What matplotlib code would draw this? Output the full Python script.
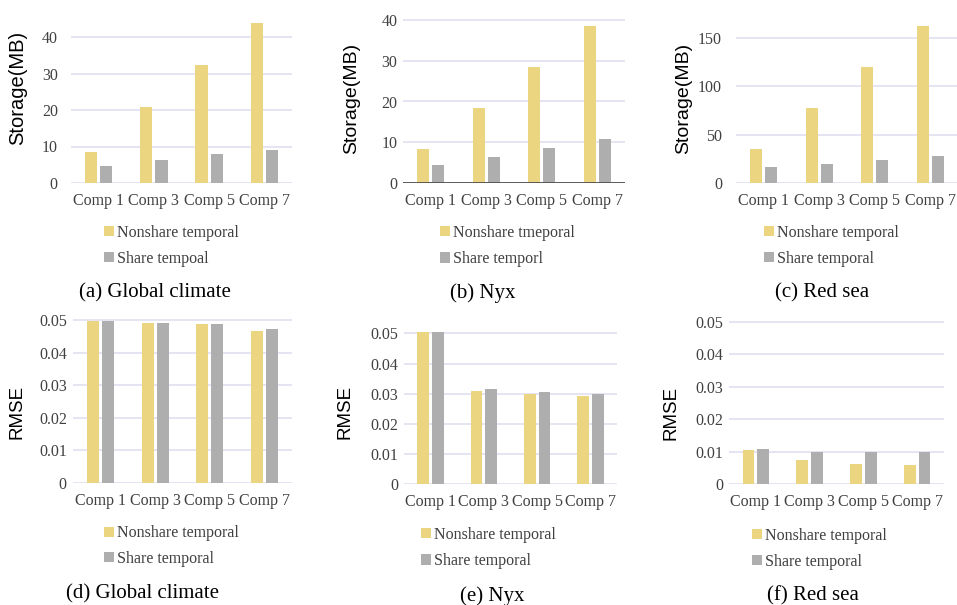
import numpy as np
import matplotlib
matplotlib.use("Agg")
import matplotlib.pyplot as plt
from matplotlib.patches import Patch

W, H = 957, 605

comps = ["Comp 1", "Comp 3", "Comp 5", "Comp 7"]

# storage (MB)
climate_nonshare = [8.6, 20.9, 32.2, 43.9]
climate_share = [4.6, 6.2, 7.9, 9.1]
nyx_nonshare = [8.4, 18.3, 28.4, 38.5]
nyx_share = [4.4, 6.5, 8.7, 10.7]
redsea_nonshare = [35.4, 77.1, 119.5, 162.2]
redsea_share = [16.5, 19.8, 24.0, 28.4]

# RMSE
climate_rmse_nonshare = [0.0496, 0.0491, 0.0487, 0.0466]
climate_rmse_share = [0.0496, 0.0492, 0.0488, 0.0472]
nyx_rmse_nonshare = [0.0505, 0.0309, 0.0299, 0.0291]
nyx_rmse_share = [0.0505, 0.0316, 0.0305, 0.0299]
redsea_rmse_nonshare = [0.0106, 0.0076, 0.0063, 0.0058]
redsea_rmse_share = [0.0110, 0.0100, 0.0100, 0.0098]

storage_ticks = {"a": [0, 10, 20, 30, 40], "b": [0, 10, 20, 30, 40],
                 "c": [0, 50, 100, 150]}
rmse_ticks = [0, 0.01, 0.02, 0.03, 0.04, 0.05]
rmse_ticklabels = ["0", "0.01", "0.02", "0.03", "0.04", "0.05"]

YELLOW = "#ECD580"
GRAY = "#AEAEAE"
GRID = "#DCDCEF"
TXT = "#404040"

serif = ["Liberation Serif", "DejaVu Serif"]
sans = ["Liberation Sans", "DejaVu Sans"]

fig = plt.figure(figsize=(W / 100, H / 100), dpi=100)


def make_axes(x0, x1, yzero, ppu, ymax):
    # pixel box -> figure fraction
    top = yzero - ymax * ppu
    return fig.add_axes([x0 / W, 1 - yzero / H, (x1 - x0) / W, (yzero - top) / H])


# panel layout: x0, x1, zero-line y, px per unit, ymax, ytick pad, ylabel centre
panels = [
    dict(x0=71, x1=292, yz=183, ppu=3.65, ymax=46, pad=9.5, lx=18, ly=88,
         a=climate_nonshare, b=climate_share, ticks=storage_ticks["a"], labels=None,
         ylab="Storage(MB)", ylsize=14.5, leg=("Nonshare temporal", "Share tempoal"),
         legxy=(104, 246), legsp=0.62, cap="(a) Global climate", capxy=(155, 293)),
    dict(x0=403, x1=625, yz=183, ppu=4.075, ymax=40.6, pad=4, lx=352, ly=98,
         a=nyx_nonshare, b=nyx_share, ticks=storage_ticks["b"], labels=None,
         ylab="Storage(MB)", ylsize=14, leg=("Nonshare tmeporal", "Share temporl"),
         legxy=(440, 246), legsp=0.65, cap="(b) Nyx", capxy=(483, 293)),
    dict(x0=736, x1=958, yz=183, ppu=0.968, ymax=165, pad=10, lx=684, ly=98,
         a=redsea_nonshare, b=redsea_share, ticks=storage_ticks["c"], labels=None,
         ylab="Storage(MB)", ylsize=14, leg=("Nonshare temporal", "Share temporal"),
         legxy=(764, 246), legsp=0.62, cap="(c) Red sea", capxy=(822, 293)),
    dict(x0=73, x1=292, yz=483, ppu=3260, ymax=0.0505, pad=4.5, lx=17, ly=412,
         a=climate_rmse_nonshare, b=climate_rmse_share, ticks=rmse_ticks,
         labels=rmse_ticklabels, ylab="RMSE", ylsize=13.5,
         leg=("Nonshare temporal", "Share temporal"),
         legxy=(104, 546), legsp=0.6, cap="(d) Global climate", capxy=(142, 594)),
    dict(x0=404, x1=617, yz=484.3, ppu=3020, ymax=0.052, pad=4, lx=345, ly=412,
         a=nyx_rmse_nonshare, b=nyx_rmse_share, ticks=rmse_ticks,
         labels=rmse_ticklabels, ylab="RMSE", ylsize=13.5,
         leg=("Nonshare temporal", "Share temporal"),
         legxy=(421, 548), legsp=0.65, cap="(e) Nyx", capxy=(492, 596)),
    dict(x0=729, x1=944, yz=484.3, ppu=3250, ymax=0.0505, pad=4, lx=671, ly=413,
         a=redsea_rmse_nonshare, b=redsea_rmse_share, ticks=rmse_ticks,
         labels=rmse_ticklabels, ylab="RMSE", ylsize=13.5,
         leg=("Nonshare temporal", "Share temporal"),
         legxy=(752, 549), legsp=0.62, cap="(f) Red sea", capxy=(813, 596)),
]

x = np.arange(len(comps))
bw = 0.22
off = 0.137

for i, p in enumerate(panels):
    ax = make_axes(p["x0"], p["x1"], p["yz"], p["ppu"], p["ymax"])
    ax.bar(x - off, p["a"], bw, color=YELLOW, zorder=3)
    ax.bar(x + off, p["b"], bw, color=GRAY, zorder=3)
    ax.set_xlim(-0.5, 3.5)
    ax.set_ylim(0, p["ymax"])
    ax.set_yticks(p["ticks"])
    if p["labels"] is not None:
        ax.set_yticklabels(p["labels"])
    ax.set_xticks(x)
    ax.set_xticklabels(comps)
    for s in ax.spines.values():
        s.set_visible(False)
    ax.grid(axis="y", color=GRID, linewidth=1.1, zorder=0)
    if i == 1:
        ax.axhline(0, color="#505050", linewidth=1.3, zorder=4)
    ax.tick_params(axis="both", length=0, colors=TXT, labelsize=11.5)
    ax.tick_params(axis="y", pad=p["pad"])
    ax.tick_params(axis="x", pad=7)
    for t in ax.get_xticklabels() + ax.get_yticklabels():
        t.set_family(serif)
    ax.set_ylabel(p["ylab"], fontsize=p["ylsize"], family=sans, color="#000000",
                  va="center")
    top = p["yz"] - p["ymax"] * p["ppu"]
    ax.yaxis.set_label_coords((p["lx"] - p["x0"]) / (p["x1"] - p["x0"]),
                              (p["yz"] - p["ly"]) / (p["yz"] - top))

    handles = [Patch(facecolor=YELLOW, label=p["leg"][0]),
               Patch(facecolor=GRAY, label=p["leg"][1])]
    lx, ly = p["legxy"]
    fig.legend(handles=handles, loc="center left", bbox_to_anchor=(lx / W, 1 - ly / H),
               frameon=False, prop={"family": serif, "size": 11.5},
               handlelength=0.6, handleheight=0.6, handletextpad=0.2,
               labelspacing=p["legsp"], borderpad=0, borderaxespad=0,
               labelcolor=TXT)

    cx, cy = p["capxy"]
    fig.text(cx / W, 1 - cy / H, p["cap"], ha="center", va="center",
             family=serif, fontsize=15, color="#000000")

fig.savefig("out.png", dpi=100)
